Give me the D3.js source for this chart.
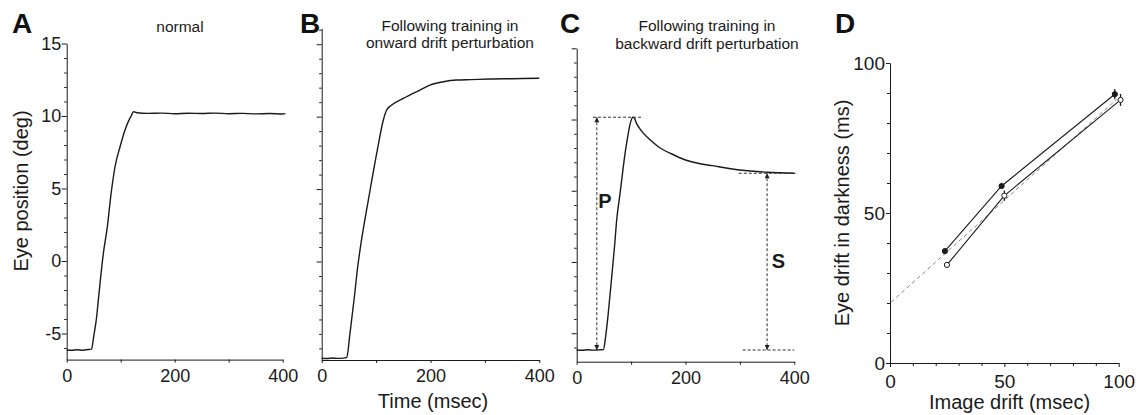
<!DOCTYPE html>
<html><head><meta charset="utf-8">
<script src="https://cdn.jsdelivr.net/npm/d3@7/dist/d3.min.js"></script>
<style>
html,body{margin:0;padding:0;background:#fff;}
svg{display:block;}
</style></head><body>
<svg id="c" width="1140" height="415"></svg>
<script>
// ---------------- DATA ----------------
const panelLetters = ["A", "B", "C", "D"];
const titleA = ["normal"];
const titleB = ["Following training in", "onward drift perturbation"];
const titleC = ["Following training in", "backward drift perturbation"];
const yTitleTrace = "Eye position (deg)";
const xTitleTrace = "Time (msec)";
const yTitleD = "Eye drift in darkness (ms)";
const xTitleD = "Image drift (msec)";

const timeTicks = [0, 200, 400];
const timeMinorTicks = [100, 300];
const eyeTicks = [-5, 0, 5, 10, 15];
const eyeMinorTicks = [-6, -4, -3, -2, -1, 1, 2, 3, 4, 6, 7, 8, 9, 11, 12, 13, 14];
const eyeTicksB = [0, 5, 10, 15];
const eyeMinorTicksB = [-6, -5, -4, -3, -2, -1, 1, 2, 3, 4, 6, 7, 8, 9, 11, 12, 13, 14, 16];
const driftTicks = [0, 50, 100];
const driftMinorTicks = [10, 20, 30, 40, 60, 70, 80, 90];

// Panel A: normal
const normalTime = [0, 10, 20, 30, 40, 46, 50, 55.6, 58.5, 61.7, 67.9, 75.3, 81.5, 89.5, 98.8, 108, 114, 120, 123.5, 130, 150, 175, 200, 225, 250, 275, 300, 325, 350, 375, 400, 405];
const normalEye  = [-6.14, -6.16, -6.12, -6.15, -6.1, -6.08, -5.2, -3.81, -2.72, -1.54, 0.53, 2.37, 4.43, 6.5, 7.88, 9.03, 9.61, 10.05, 10.3, 10.22, 10.18, 10.2, 10.16, 10.19, 10.17, 10.2, 10.16, 10.18, 10.15, 10.17, 10.14, 10.16];

// Panel B: following onward drift training
const onwardTime = [0, 10, 20, 30, 40, 46, 52, 59.4, 66.2, 70.4, 85.8, 102.3, 113.3, 119.4, 128.6, 150, 180.7, 199, 223.6, 248, 275, 309, 350, 400];
const onwardEye  = [-6.68, -6.7, -6.66, -6.69, -6.67, -6.62, -4.96, -2.66, -0.36, 0.79, 4.25, 7.7, 9.77, 10.46, 10.8, 11.26, 11.84, 12.18, 12.41, 12.53, 12.56, 12.6, 12.62, 12.65];

// Panel C: following backward drift training
const backwardTime = [0, 10, 20, 30, 40, 49, 53, 58, 64, 70, 73.5, 80, 85.7, 90, 94.8, 99, 103, 106, 110, 120, 130, 140, 150, 175, 200, 225, 250, 275, 300, 350, 400];
const backwardEye  = [-6.18, -6.2, -6.16, -6.19, -6.17, -6.15, -5.3, -3.6, -1.2, 1.3, 2.95, 4.9, 6.69, 7.9, 9.03, 9.8, 10.16, 10.1, 9.73, 9.15, 8.75, 8.4, 8.09, 7.58, 7.16, 6.91, 6.76, 6.6, 6.46, 6.3, 6.23];
// annotation levels in panel C
const peakLevel = 10.16, baseLevel = -6.18, steadyLevel = 6.23;
const peakLineTime = [30, 120];
const steadyLineTime = [298, 402];
const baseLineTime = [305, 400];
const pArrowTime = 37, sArrowTime = 350;
const annotLabels = ["P", "S"];

// Panel D
const filledDrift = [24.0, 48.8, 98.3];
const filledEye   = [37.3, 59.0, 89.6];
const filledErr   = [0.6, 0.8, 1.7];
const openDrift   = [24.9, 50.0, 100.8];
const openEye     = [32.7, 55.8, 87.7];
const openErr     = [0.6, 1.7, 2.0];
const fitDrift = [0.5, 99];
const fitEye   = [20.3, 87.8];

// ---------------- DRAWING ----------------
const FONT = '"Liberation Sans", Arial, Helvetica, sans-serif';
const INK = "#1a1a1a";
const svg = d3.select("#c").attr("font-family", FONT);

const defs = svg.append("defs");
defs.append("marker").attr("id", "arr").attr("viewBox", "0 0 10 10")
  .attr("refX", 10).attr("refY", 5).attr("markerWidth", 7).attr("markerHeight", 5)
  .attr("markerUnits", "userSpaceOnUse").attr("orient", "auto-start-reverse")
  .append("path").attr("d", "M0,0L10,5L0,10Z").attr("fill", "#222");

function styleAxis(g, fs) {
  g.attr("font-size", fs).attr("font-family", FONT);
  g.selectAll("path,line").attr("stroke", INK).attr("stroke-width", 1);
  g.selectAll("text").attr("fill", INK);
}

function traceAxes(x, y, major, minor, labelled) {
  const x0 = x.range()[0], yb = y.range()[0];
  const gy = svg.append("g").attr("transform", `translate(${x0},0)`);
  gy.call(d3.axisLeft(y).tickValues(major).tickSize(5).tickSizeOuter(0).tickPadding(0.5)
      .tickFormat(labelled ? (d => String(d)) : ""));
  styleAxis(gy, 18);
  const gym = svg.append("g").attr("transform", `translate(${x0},0)`);
  gym.call(d3.axisLeft(y).tickValues(minor).tickSize(2.5).tickSizeOuter(0).tickFormat(""));
  gym.select(".domain").remove();
  styleAxis(gym, 18);
  const gx = svg.append("g").attr("transform", `translate(0,${yb})`);
  gx.call(d3.axisBottom(x).tickValues(timeTicks).tickSize(3).tickSizeOuter(0).tickPadding(6.5)
      .tickFormat(d => String(d)));
  styleAxis(gx, 18);
  const gxm = svg.append("g").attr("transform", `translate(0,${yb})`);
  gxm.call(d3.axisBottom(x).tickValues(timeMinorTicks).tickSize(3).tickSizeOuter(0).tickFormat(""));
  gxm.select(".domain").remove();
  styleAxis(gxm, 18);
}

function drawTrace(x, y, ts, vs) {
  const pts = ts.map((t, i) => [t, vs[i]]);
  svg.append("path").datum(pts)
    .attr("d", d3.line().x(d => x(d[0])).y(d => y(d[1])).curve(d3.curveMonotoneX))
    .attr("fill", "none").attr("stroke", INK).attr("stroke-width", 1.4)
    .attr("stroke-linejoin", "round");
}

function title(lines, cx, y0, dy) {
  lines.forEach((s, i) => svg.append("text").attr("x", cx).attr("y", y0 + i * dy)
    .attr("text-anchor", "middle").attr("font-size", 15.5).attr("fill", INK).text(s));
}

// Panel scales
const xA = d3.scaleLinear().domain([0, 400]).range([66.7, 282.7]);
const yA = d3.scaleLinear().domain([-6.8, 15]).range([359.6, 43.5]);
const xB = d3.scaleLinear().domain([0, 400]).range([321.7, 539.3]);
const yB = d3.scaleLinear().domain([-6.8, 16.1]).range([360, 28.3]);
const xC = d3.scaleLinear().domain([0, 400]).range([576.7, 794.3]);
const yC = d3.scaleLinear().domain([-7, 15]).range([361.7, 48.3]);
const xD = d3.scaleLinear().domain([0, 100]).range([890, 1118.7]);
const yD = d3.scaleLinear().domain([0, 100]).range([363, 63]);

// A
traceAxes(xA, yA, eyeTicks, eyeMinorTicks, true);
drawTrace(xA, yA, normalTime, normalEye);
title(titleA, 180, 32, 17);
// B
traceAxes(xB, yB, eyeTicksB, eyeMinorTicksB, false);
drawTrace(xB, yB, onwardTime, onwardEye);
title(titleB, 450, 31, 17);
// C
traceAxes(xC, yC, eyeTicks, eyeMinorTicks, false);
drawTrace(xC, yC, backwardTime, backwardEye);
title(titleC, 707, 31, 18);

// C annotations
const dash = g => g.attr("stroke", "#333").attr("stroke-width", 1).attr("stroke-dasharray", "3,2").attr("fill", "none");
svg.append("line").attr("x1", xC(peakLineTime[0])).attr("x2", xC(peakLineTime[1]))
  .attr("y1", yC(peakLevel)).attr("y2", yC(peakLevel)).call(dash);
svg.append("line").attr("x1", xC(steadyLineTime[0])).attr("x2", xC(steadyLineTime[1]))
  .attr("y1", yC(steadyLevel)).attr("y2", yC(steadyLevel)).call(dash);
svg.append("line").attr("x1", xC(baseLineTime[0])).attr("x2", xC(baseLineTime[1]))
  .attr("y1", yC(baseLevel)).attr("y2", yC(baseLevel)).call(dash);
[[pArrowTime, peakLevel], [sArrowTime, steadyLevel]].forEach(([t, top]) => {
  svg.append("line").attr("x1", xC(t)).attr("x2", xC(t))
    .attr("y1", yC(top)).attr("y2", yC(baseLevel)).call(dash)
    .attr("marker-start", "url(#arr)").attr("marker-end", "url(#arr)");
});
svg.append("text").attr("x", xC(52)).attr("y", yC(3.8)).attr("text-anchor", "middle")
  .attr("font-size", 20).attr("font-weight", "bold").attr("fill", INK).text(annotLabels[0]);
svg.append("text").attr("x", xC(371)).attr("y", yC(-0.42)).attr("text-anchor", "middle")
  .attr("font-size", 20).attr("font-weight", "bold").attr("fill", INK).text(annotLabels[1]);

// Axis titles for traces
svg.append("text").attr("transform", `translate(27.5,191) rotate(-90)`).attr("text-anchor", "middle")
  .attr("font-size", 20).attr("fill", INK).text(yTitleTrace);
svg.append("text").attr("x", 433).attr("y", 408).attr("text-anchor", "middle")
  .attr("font-size", 20).attr("fill", INK).text(xTitleTrace);

// D axes
{
  const gy = svg.append("g").attr("transform", `translate(${xD.range()[0]},0)`);
  gy.call(d3.axisLeft(yD).tickValues(driftTicks).tickSize(4).tickSizeOuter(0).tickPadding(1).tickFormat(d => String(d)));
  styleAxis(gy, 19);
  const gym = svg.append("g").attr("transform", `translate(${xD.range()[0]},0)`);
  gym.call(d3.axisLeft(yD).tickValues(driftMinorTicks).tickSize(3).tickSizeOuter(0).tickFormat(""));
  gym.select(".domain").remove(); styleAxis(gym, 19);
  const gx = svg.append("g").attr("transform", `translate(0,${yD.range()[0]})`);
  gx.call(d3.axisBottom(xD).tickValues(driftTicks).tickSize(4).tickSizeOuter(0).tickPadding(8).tickFormat(d => String(d)));
  styleAxis(gx, 19);
  const gxm = svg.append("g").attr("transform", `translate(0,${yD.range()[0]})`);
  gxm.call(d3.axisBottom(xD).tickValues(driftMinorTicks).tickSize(3).tickSizeOuter(0).tickFormat(""));
  gxm.select(".domain").remove(); styleAxis(gxm, 19);
}
// D fit line
svg.append("line").attr("x1", xD(fitDrift[0])).attr("y1", yD(fitEye[0]))
  .attr("x2", xD(fitDrift[1])).attr("y2", yD(fitEye[1]))
  .attr("stroke", "#888").attr("stroke-width", 1).attr("stroke-dasharray", "4,3");
// D series
function series(xs, ys, es, filled) {
  const pts = xs.map((v, i) => ({x: v, y: ys[i], e: es[i]}));
  svg.append("path").datum(pts)
    .attr("d", d3.line().x(d => xD(d.x)).y(d => yD(d.y)))
    .attr("fill", "none").attr("stroke", INK).attr("stroke-width", 1.1);
  svg.append("g").selectAll("line").data(pts).join("line")
    .attr("x1", d => xD(d.x)).attr("x2", d => xD(d.x))
    .attr("y1", d => yD(d.y - d.e)).attr("y2", d => yD(d.y + d.e))
    .attr("stroke", INK).attr("stroke-width", 1.3);
  svg.append("g").selectAll("circle").data(pts).join("circle")
    .attr("cx", d => xD(d.x)).attr("cy", d => yD(d.y)).attr("r", 2.6)
    .attr("fill", filled ? INK : "#fff").attr("stroke", INK).attr("stroke-width", 1);
}
series(openDrift, openEye, openErr, false);
series(filledDrift, filledEye, filledErr, true);

svg.append("text").attr("transform", `translate(849,213) rotate(-90)`).attr("text-anchor", "middle")
  .attr("font-size", 20).attr("fill", INK).text(yTitleD);
svg.append("text").attr("x", 1009.5).attr("y", 409).attr("text-anchor", "middle")
  .attr("font-size", 20).attr("fill", INK).text(xTitleD);

// Panel letters
const letterX = [12, 300, 560, 835];
panelLetters.forEach((l, i) => svg.append("text").attr("x", letterX[i]).attr("y", 33)
  .attr("font-size", 28).attr("font-weight", "bold").attr("fill", "#111").text(l));
</script>
</body></html>
